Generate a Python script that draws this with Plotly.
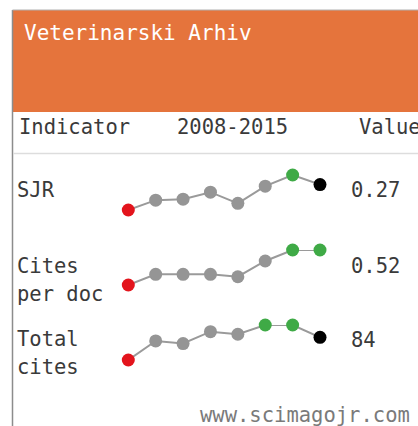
import plotly.graph_objects as go

W, H = 418, 426

title = "Veterinarski Arhiv"
header = ["Indicator", "2008-2015", "Value"]
years = [2008, 2009, 2010, 2011, 2012, 2013, 2014, 2015]
indicators = [["SJR"], ["Cites", "per doc"], ["Total", "cites"]]
sjr = [0.190, 0.221, 0.224, 0.246, 0.211, 0.265, 0.300, 0.270]
cites_per_doc = [0.30, 0.367, 0.367, 0.367, 0.352, 0.451, 0.52, 0.52]
total_cites = [40, 77, 72, 95, 90, 108, 108, 84]
value_labels = ["0.27", "0.52", "84"]
footer = "www.scimagojr.com"

series = [sjr, cites_per_doc, total_cites]

FONT = "DejaVu Sans Mono"
TXT = "#3a3a3a"
ORANGE = "#e5743c"
RED, GREEN, BLACK, GRAY = "#e3141c", "#3faa46", "#000000", "#959595"


def px(x):
    return x / W


def py(y):
    return 1 - y / H


def colors(vals):
    lo, hi = min(vals), max(vals)
    out = []
    for i, v in enumerate(vals):
        if v == lo:
            out.append(RED)
        elif v == hi:
            out.append(GREEN)
        elif i == len(vals) - 1:
            out.append(BLACK)
        else:
            out.append(GRAY)
    return out


fig = go.Figure()
row_top = [175, 250, 325]
row_h = 35
for i, vals in enumerate(series):
    yname = "y" if i == 0 else f"y{i+1}"
    fig.add_trace(go.Scatter(
        x=years, y=vals, yaxis=yname, xaxis="x", mode="lines+markers",
        line=dict(color="#9a9a9a", width=2),
        marker=dict(size=13, color=colors(vals), line=dict(width=0)),
        cliponaxis=False, showlegend=False, hoverinfo="x+y",
    ))

layout = dict(
    width=W, height=H, autosize=False,
    margin=dict(l=0, r=0, t=0, b=0),
    paper_bgcolor="white", plot_bgcolor="rgba(0,0,0,0)",
    xaxis=dict(domain=[px(128.3), px(320)], range=[years[0], years[-1]],
               visible=False, fixedrange=True, anchor="y"),
)
for i, vals in enumerate(series):
    key = "yaxis" if i == 0 else f"yaxis{i+1}"
    top = row_top[i]
    layout[key] = dict(domain=[py(top + row_h), py(top)],
                       range=[min(vals), max(vals)], visible=False,
                       fixedrange=True, anchor="x")
fig.update_layout(**layout)

shapes = [
    dict(type="rect", xref="paper", yref="paper", x0=px(13), x1=1.02,
         y0=py(112), y1=py(10), fillcolor=ORANGE, line=dict(width=0), layer="below"),
    dict(type="line", xref="paper", yref="paper", x0=px(12.5), x1=px(12.5),
         y0=py(10), y1=-0.02, line=dict(color="#8c8c8c", width=1.5)),
    dict(type="line", xref="paper", yref="paper", x0=px(12.5), x1=1.02,
         y0=py(10), y1=py(10), line=dict(color="#b0b0b0", width=1)),
    dict(type="line", xref="paper", yref="paper", x0=px(13), x1=1.02,
         y0=py(153.5), y1=py(153.5), line=dict(color="#dddddd", width=1.5)),
]
fig.update_layout(shapes=shapes)

ann = []


def text(s, x, y, size=20.5, color=TXT, anchor="left"):
    ann.append(dict(text=s, x=px(x), y=py(y), xref="paper", yref="paper",
                    xanchor=anchor, yanchor="middle", showarrow=False,
                    font=dict(family=FONT, size=size, color=color)))


text(title, 22, 33, size=21, color="white")
text(header[0], 17, 127)
text(header[1], 175, 127)
text(header[2], 357, 127)
label_y = [[190], [265.5, 294], [338.5, 367]]
value_y = [190, 265.5, 340]
for i, lines in enumerate(indicators):
    for j, line in enumerate(lines):
        text(line, 15, label_y[i][j])
    text(value_labels[i], 349, value_y[i])
text(footer, 412, 415, color="#7a7a7a", anchor="right")
fig.update_layout(annotations=ann)

fig.write_html(
    "out.html",
    config={"displayModeBar": False},
    post_script="document.body.style.margin='0';document.body.style.overflow='hidden';",
)
